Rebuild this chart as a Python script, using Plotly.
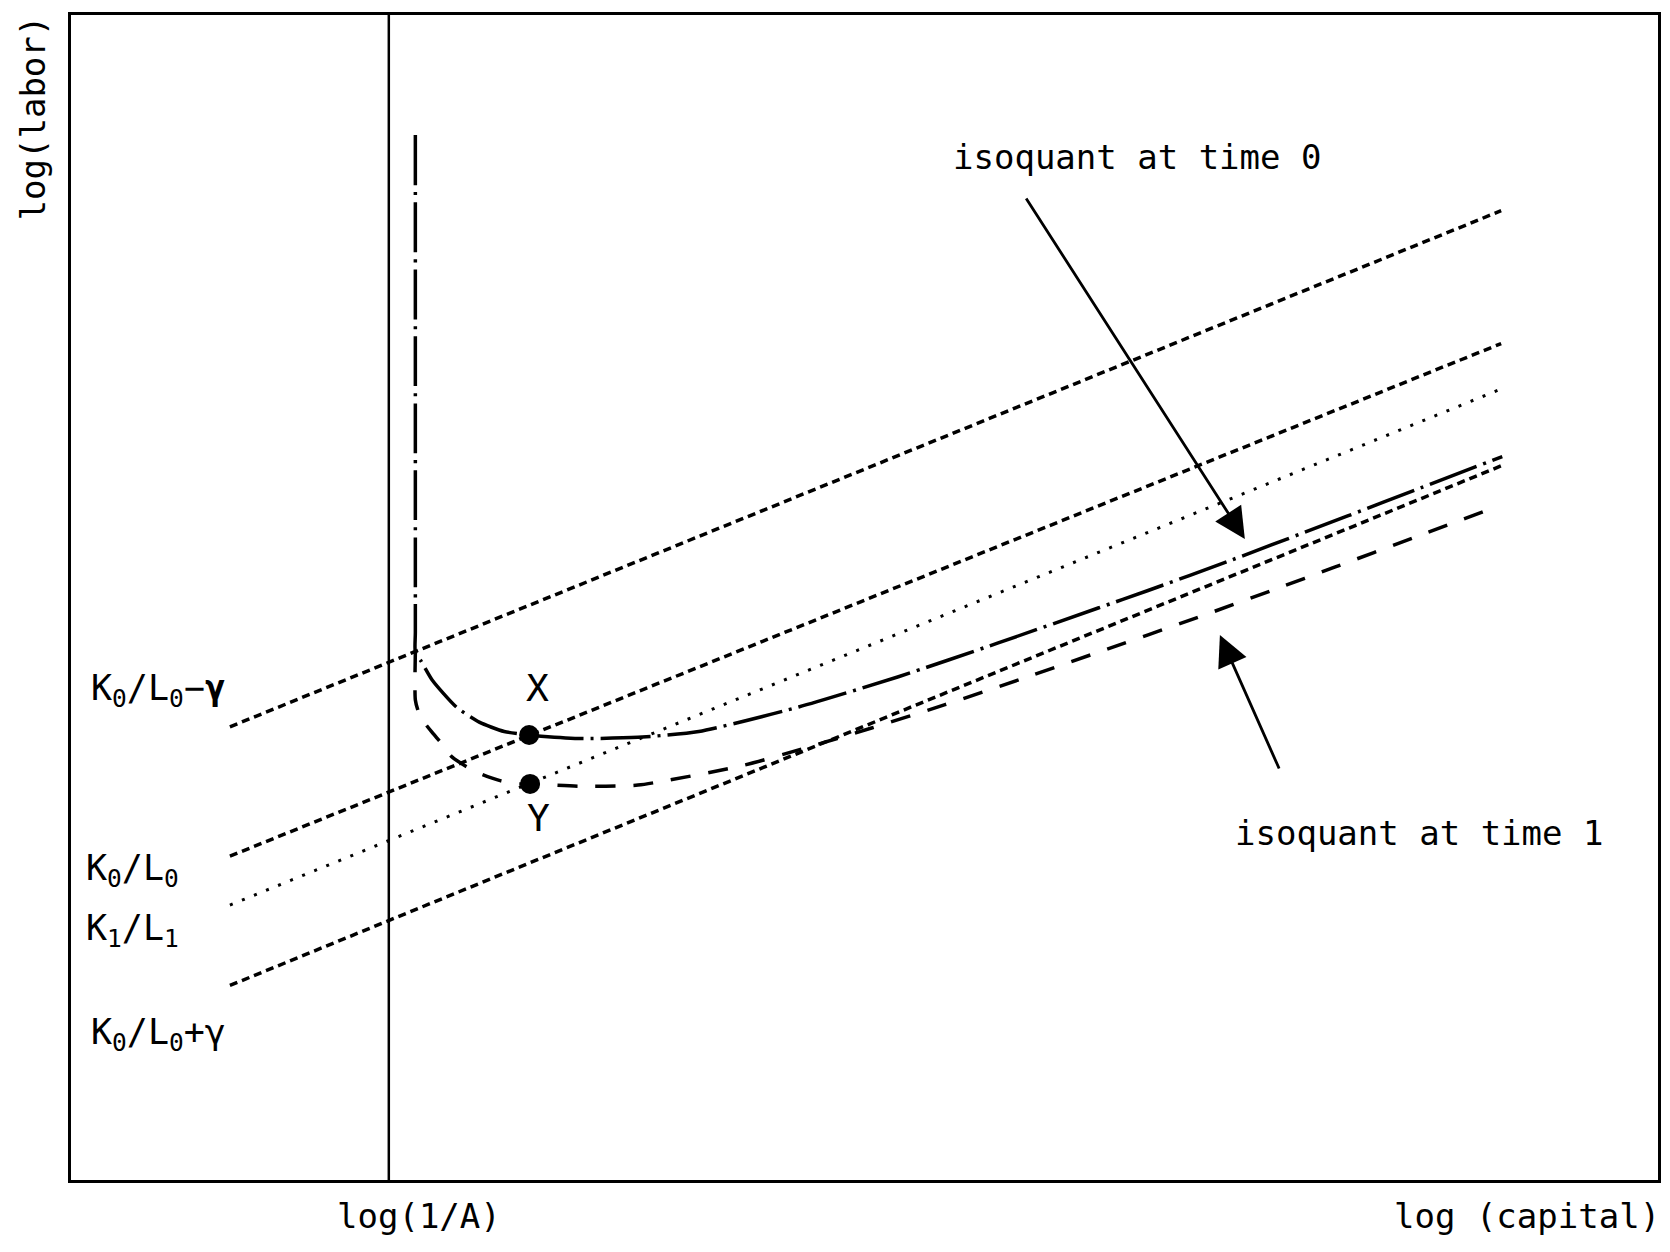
import plotly.graph_objects as go

# ---------------- data (abstract log units) ----------------
line_x = [1.0, 9.0]
line_A = [3.89, 8.32]   # K0/L0 - gamma
line_B = [2.78, 7.18]   # K0/L0
line_C = [2.36, 6.79]   # K1/L1
line_D = [1.67, 6.13]   # K0/L0 + gamma

log_inv_A = 2.0

iso0_x = [2.167, 2.167, 2.167, 2.205, 2.274, 2.425, 2.569, 2.726, 2.883, 3.197, 3.568,
          3.951, 4.579, 5.207, 5.835, 6.464, 6.778, 7.280, 8.034, 8.492, 9.007]
iso0_y = [8.97, 4.70, 4.53, 4.45, 4.29, 4.06, 3.93, 3.85, 3.82, 3.79, 3.80,
          3.85, 4.06, 4.32, 4.61, 4.91, 5.06, 5.31, 5.70, 5.94, 6.21]

iso1_x = [2.167, 2.167, 2.186, 2.211, 2.274, 2.330, 2.399, 2.487, 2.569, 2.695, 2.808,
          2.889, 3.197, 3.568, 4.234, 4.600, 5.038, 5.500, 6.000, 6.464, 7.092, 7.575,
          7.952, 8.442, 8.913]
iso1_y = [4.53, 4.12, 4.02, 3.95, 3.84, 3.75, 3.63, 3.55, 3.49, 3.43, 3.40,
          3.40, 3.38, 3.39, 3.56, 3.70, 3.88, 4.08, 4.31, 4.53, 4.83, 5.07,
          5.26, 5.51, 5.75]

point_x = [2.883, 2.889]
point_y = [3.82, 3.40]
point_labels = ["X", "Y"]

arrow0 = dict(tail=(6.005, 8.438), tip=(7.387, 5.502))
arrow1 = dict(tail=(7.607, 3.519), tip=(7.230, 4.678))

left_labels = ["K<sub>0</sub>/L<sub>0</sub>−<b>γ</b>", "K<sub>0</sub>/L<sub>0</sub>",
               "K<sub>1</sub>/L<sub>1</sub>", "K<sub>0</sub>/L<sub>0</sub>+γ"]
left_label_x = [0.115, 0.08, 0.08, 0.115]
left_label_y = [4.20, 2.66, 2.14, 1.25]

FONT = "DejaVu Sans Mono"

fig = go.Figure()

# vertical line log(1/A)
fig.add_trace(go.Scatter(x=[log_inv_A, log_inv_A], y=[0, 10], mode="lines",
                         line=dict(color="black", width=2.5), hoverinfo="skip"))

# ray lines
fig.add_trace(go.Scatter(x=line_x, y=line_A, mode="lines",
                         line=dict(color="black", width=3.5, dash="8px,5px")))
fig.add_trace(go.Scatter(x=line_x, y=line_B, mode="lines",
                         line=dict(color="black", width=3.5, dash="8px,5px")))
fig.add_trace(go.Scatter(x=line_x, y=line_C, mode="lines",
                         line=dict(color="black", width=3, dash="3px,10px")))
fig.add_trace(go.Scatter(x=line_x, y=line_D, mode="lines",
                         line=dict(color="black", width=3.5, dash="8px,5px")))

# isoquants
fig.add_trace(go.Scatter(x=iso0_x, y=iso0_y, mode="lines",
                         line=dict(color="black", width=3.5, dash="50px,7px,3px,7px",
                                   shape="spline", smoothing=0.6)))
fig.add_trace(go.Scatter(x=iso1_x, y=iso1_y, mode="lines",
                         line=dict(color="black", width=3.5, dash="20px,18px",
                                   shape="spline", smoothing=0.6)))

# points X, Y
fig.add_trace(go.Scatter(x=point_x, y=point_y, mode="markers",
                         marker=dict(color="black", size=20)))

annotations = []
# point labels
annotations.append(dict(x=point_x[0] + 0.05, y=point_y[0] + 0.40, text=point_labels[0],
                        showarrow=False, font=dict(size=38)))
annotations.append(dict(x=point_x[1] + 0.05, y=point_y[1] - 0.29, text=point_labels[1],
                        showarrow=False, font=dict(size=38)))

# arrows
for a in (arrow0, arrow1):
    annotations.append(dict(x=a["tip"][0], y=a["tip"][1], ax=a["tail"][0], ay=a["tail"][1],
                            xref="x", yref="y", axref="x", ayref="y", text="",
                            showarrow=True, arrowhead=2, arrowsize=2.2, arrowwidth=2.8,
                            arrowcolor="black"))

annotations.append(dict(x=5.54, y=8.78, text="isoquant at time 0", xanchor="left",
                        showarrow=False, font=dict(size=34)))
annotations.append(dict(x=7.31, y=2.98, text="isoquant at time 1", xanchor="left",
                        showarrow=False, font=dict(size=34)))

for t, xx, yy in zip(left_labels, left_label_x, left_label_y):
    annotations.append(dict(x=xx, y=yy, text=t, xanchor="left", showarrow=False,
                            font=dict(size=35)))

# axis titles
annotations.append(dict(x=2.19, y=-0.031, yref="paper", yanchor="middle", xanchor="center",
                        text="log(1/A)", showarrow=False, font=dict(size=34)))
annotations.append(dict(x=9.165, y=-0.031, yref="paper", yanchor="middle", xanchor="center",
                        text="log (capital)", showarrow=False, font=dict(size=34)))
annotations.append(dict(x=-0.024, xref="paper", xanchor="center", y=9.12, yanchor="middle",
                        text="log(labor)", textangle=-90, showarrow=False,
                        font=dict(size=34)))

fig.update_layout(
    width=1654, height=1236,
    margin=dict(l=63, r=1, t=7, b=64),
    paper_bgcolor="white", plot_bgcolor="white",
    showlegend=False,
    font=dict(family=FONT, color="black"),
    annotations=annotations,
    xaxis=dict(range=[0, 9.987], showgrid=False, zeroline=False, showticklabels=False,
               ticks="", showline=True, mirror=True, linecolor="black", linewidth=3),
    yaxis=dict(range=[0, 10], showgrid=False, zeroline=False, showticklabels=False,
               ticks="", showline=True, mirror=True, linecolor="black", linewidth=3),
)

fig.write_html("out.html")
